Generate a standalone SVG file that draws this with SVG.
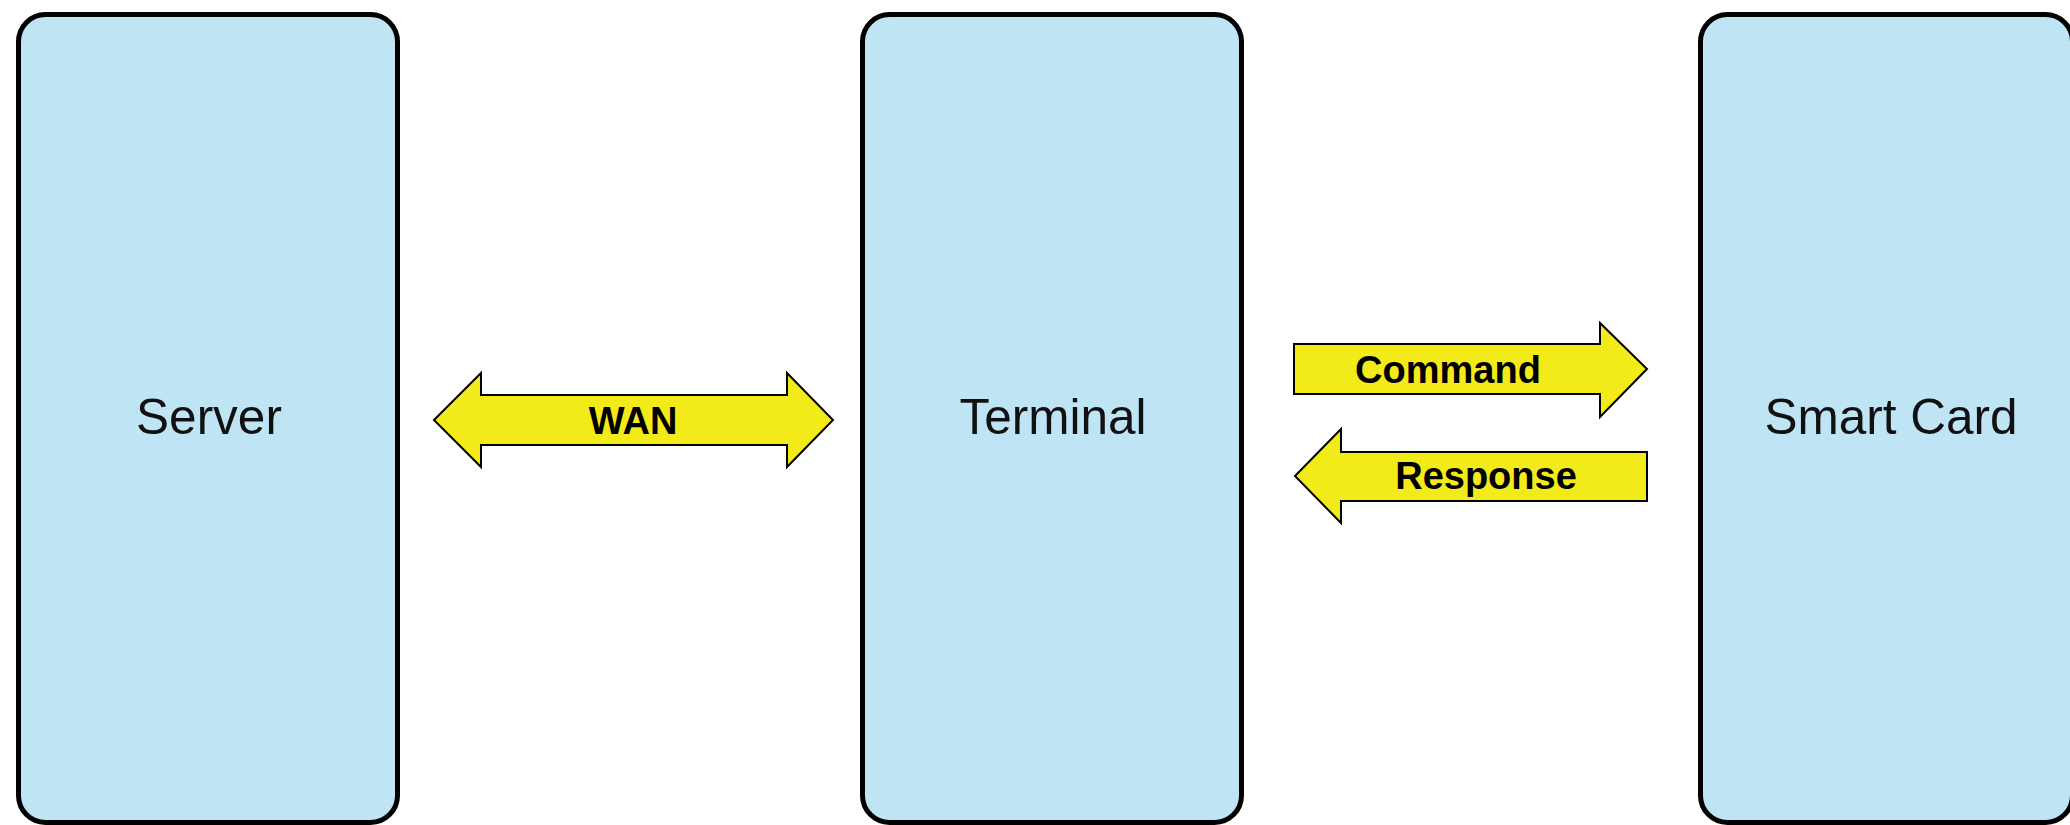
<svg xmlns="http://www.w3.org/2000/svg" width="2070" height="825" viewBox="0 0 2070 825">
  <style>
    .box { fill: #bfe5f5; stroke: #000; stroke-width: 5; }
    .box-label { font-family: "Liberation Sans", Arial, sans-serif; font-size: 49.5px; fill: #111; text-anchor: middle; }
    .arrow { fill: #f3eb19; stroke: #000; stroke-width: 2; stroke-linejoin: miter; }
    .arrow-label { font-family: "Liberation Sans", Arial, sans-serif; font-size: 38px; font-weight: bold; fill: #000; text-anchor: middle; }
  </style>
  <rect width="2070" height="825" fill="#ffffff"/>

  <g id="server">
    <rect class="box" x="18.5" y="14.5" width="379" height="808" rx="27" ry="27"/>
    <text class="box-label" x="209" y="434">Server</text>
  </g>

  <g id="terminal">
    <rect class="box" x="862.5" y="14.5" width="379" height="808" rx="27" ry="27"/>
    <text class="box-label" x="1053" y="434">Terminal</text>
  </g>

  <g id="smart-card">
    <rect class="box" x="1700.5" y="14.5" width="372" height="808" rx="27" ry="27"/>
    <text class="box-label" x="1891" y="434">Smart Card</text>
  </g>

  <g id="connectors">
    <g id="wan">
      <polygon class="arrow" points="434,420 481,373 481,395 787,395 787,373 833,420 787,467 787,445 481,445 481,467"/>
      <text class="arrow-label" x="633" y="434">WAN</text>
    </g>
    <g id="command">
      <polygon class="arrow" points="1294,344 1600,344 1600,323 1647,369 1600,417 1600,394 1294,394"/>
      <text class="arrow-label" x="1448" y="383">Command</text>
    </g>
    <g id="response">
      <polygon class="arrow" points="1295,476 1341,429 1341,452 1647,452 1647,501 1341,501 1341,523"/>
      <text class="arrow-label" x="1486" y="489">Response</text>
    </g>
  </g>
</svg>
